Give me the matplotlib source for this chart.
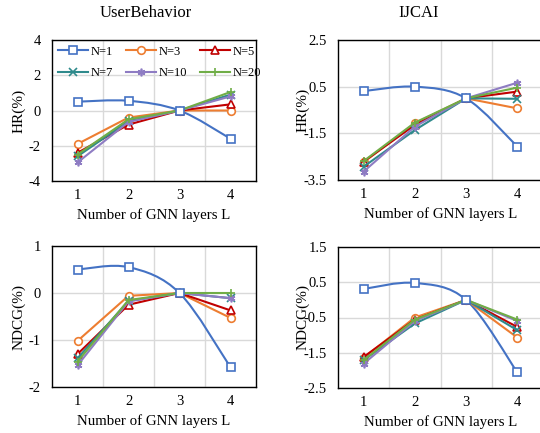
import matplotlib
matplotlib.use("Agg")
import matplotlib.pyplot as plt
from matplotlib.path import Path
from matplotlib.patches import PathPatch

plt.rcParams["font.family"] = ["Liberation Serif", "DejaVu Serif"]

layers = [1, 2, 3, 4]
labels = ["N=1", "N=3", "N=5", "N=7", "N=10", "N=20"]

hr_user = [
    [0.50, 0.55, 0.00, -1.60],
    [-1.90, -0.40, 0.00, 0.00],
    [-2.40, -0.80, 0.00, 0.35],
    [-2.60, -0.60, 0.00, 0.90],
    [-2.95, -0.65, 0.00, 0.80],
    [-2.50, -0.50, 0.00, 1.05],
]
hr_ijcai = [
    [0.31, 0.50, 0.00, -2.07],
    [-2.74, -1.07, 0.00, -0.43],
    [-2.71, -1.14, 0.00, 0.29],
    [-2.93, -1.36, 0.00, -0.02],
    [-3.14, -1.21, 0.00, 0.67],
    [-2.69, -1.04, 0.00, 0.46],
]
ndcg_user = [
    [0.50, 0.55, 0.00, -1.58],
    [-1.02, -0.06, 0.00, -0.53],
    [-1.30, -0.25, 0.00, -0.37],
    [-1.39, -0.17, 0.00, -0.11],
    [-1.54, -0.18, 0.00, -0.11],
    [-1.46, -0.15, 0.00, 0.00],
]
ndcg_ijcai = [
    [0.31, 0.48, 0.00, -2.06],
    [-1.64, -0.50, 0.00, -1.07],
    [-1.62, -0.56, 0.00, -0.77],
    [-1.71, -0.67, 0.00, -0.86],
    [-1.81, -0.60, 0.00, -0.60],
    [-1.71, -0.56, 0.00, -0.56],
]

colors = ["#4472C4", "#ED7D31", "#C00000", "#2F8A8C", "#8E7CC3", "#70AD47"]
markers = ["s", "o", "^", "x", (6, 2, 0), "+"]


def smooth_path(xs, ys):
    # Excel-like smoothed line (Catmull-Rom as cubic Bezier)
    pts = list(zip(xs, ys))
    verts = [pts[0]]
    codes = [Path.MOVETO]
    n = len(pts)
    for i in range(n - 1):
        p0 = pts[max(i - 1, 0)]
        p1 = pts[i]
        p2 = pts[i + 1]
        p3 = pts[min(i + 2, n - 1)]
        c1 = (p1[0] + (p2[0] - p0[0]) / 6, p1[1] + (p2[1] - p0[1]) / 6)
        c2 = (p2[0] - (p3[0] - p1[0]) / 6, p2[1] - (p3[1] - p1[1]) / 6)
        verts += [c1, c2, p2]
        codes += [Path.CURVE4] * 3
    return Path(verts, codes)


def draw(ax, data, ylim, yticks, ylabel, ylab_x):
    handles = []
    for i, ys in enumerate(data):
        c = colors[i]
        if i == 0:
            ax.add_patch(PathPatch(smooth_path(layers, ys), facecolor="none",
                                   edgecolor=c, lw=1.5, zorder=3))
            ax.plot(layers, ys, ls="none", marker=markers[i], color=c,
                    mfc="white", ms=5.5, mew=1.2, zorder=4)
            h, = ax.plot([], [], marker=markers[i], color=c, mfc="white", ms=5.5,
                         mew=1.2, lw=1.5, label=labels[i])
        else:
            h, = ax.plot(layers, ys, marker=markers[i], color=c, mfc="white",
                         ms=5.5, mew=1.2, lw=1.5, label=labels[i], zorder=3)
        handles.append(h)
    ax.set_xlim(0.5, 4.5)
    ax.set_ylim(*ylim)
    ax.set_xticks(layers)
    ax.set_xticks([1.5, 2.5, 3.5], minor=True)
    ax.set_yticks(yticks)
    ax.set_yticklabels([f"{t:g}" for t in yticks])
    ax.tick_params(which="both", length=0, labelsize=10.5)
    ax.tick_params(axis="y", pad=8)
    ax.tick_params(axis="x", pad=6)
    ax.grid(True, which="major", axis="y", color="#D9D9D9", lw=1)
    ax.grid(True, which="minor", axis="x", color="#D9D9D9", lw=1)
    for s in ax.spines.values():
        s.set_color("black")
        s.set_linewidth(1)
    ax.set_ylabel(ylabel, fontsize=11)
    ax.yaxis.set_label_coords(ylab_x, 0.5)
    ax.set_xlabel("Number of GNN layers L", fontsize=10.7, labelpad=4)
    return handles


fig = plt.figure(figsize=(5.4, 4.33), dpi=100)
W, H = 540, 433


def add_ax(left, top, right, bottom):
    return fig.add_axes([left / W, 1 - bottom / H, (right - left) / W, (bottom - top) / H])


ax1 = add_ax(52, 40, 256, 181)
ax2 = add_ax(338, 40, 543, 180)
ax3 = add_ax(52, 246, 256, 387)
ax4 = add_ax(338, 247, 543, 388)

hs = draw(ax1, hr_user, (-4, 4), [-4, -2, 0, 2, 4], "HR(%)", -0.13)
draw(ax2, hr_ijcai, (-3.5, 2.5), [-3.5, -1.5, 0.5, 2.5], "HR(%)", -0.137)
draw(ax3, ndcg_user, (-2, 1), [-2, -1, 0, 1], "NDCG(%)", -0.13)
draw(ax4, ndcg_ijcai, (-2.5, 1.5), [-2.5, -1.5, -0.5, 0.5, 1.5], "NDCG(%)", -0.137)

# matplotlib fills legend columns first; reorder so rows read N=1, N=3, N=5 / N=7, N=10, N=20
order = [0, 3, 1, 4, 2, 5]
ax1.legend([hs[i] for i in order], [labels[i] for i in order], ncol=3,
           loc="upper left", bbox_to_anchor=(0.0, 1.0), frameon=False,
           fontsize=9, handlelength=2.4, columnspacing=1.0, handletextpad=0.25,
           borderaxespad=0.2, borderpad=0.25, labelspacing=0.75)

fig.text(146 / W, 1 - 13 / H, "UserBehavior", ha="center", va="center", fontsize=12)
fig.text(419 / W, 1 - 13 / H, "IJCAI", ha="center", va="center", fontsize=12)

fig.savefig("out.png", dpi=100)
